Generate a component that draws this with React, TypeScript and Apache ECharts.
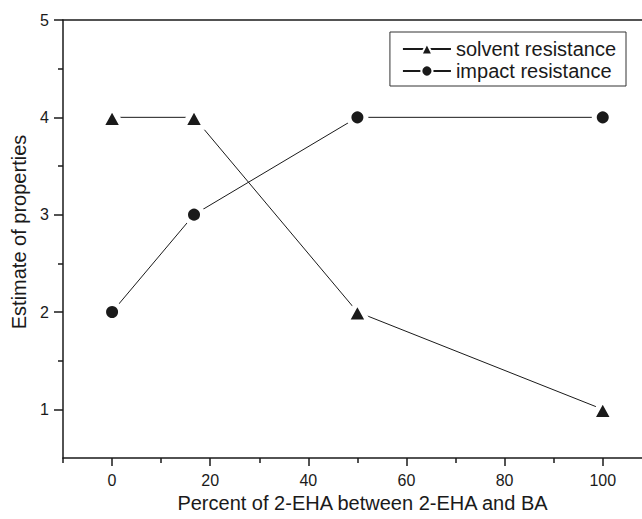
import React, { useEffect, useRef } from "react";
import * as echarts from "echarts";

const percentEHA = [0, 16.7, 50, 100];
const solventResistance = [4, 4, 2, 1];
const impactResistance = [2, 3, 4, 4];
const xMajorTicks = [0, 20, 40, 60, 80, 100];
const xMinorTicks = [-10, 10, 30, 50, 70, 90];
const yMajorTicks = [1, 2, 3, 4, 5];
const yMinorTicks = [1.5, 2.5, 3.5, 4.5];

const FONT = "'Liberation Sans', Arial, sans-serif";
const INK = "#1a1a1a";

export default function App() {
  const ref = useRef<HTMLDivElement>(null);
  useEffect(() => {
    if (!ref.current) return;
    const chart = echarts.init(ref.current, undefined, { renderer: "svg" });
    const xBase = { type: "value", min: -10, max: 108, splitLine: { show: false } };
    const yBase = { type: "value", min: 0.5, max: 5, splitLine: { show: false } };
    chart.setOption({
      animation: false,
      backgroundColor: "#fff",
      textStyle: { fontFamily: FONT },
      grid: { left: 63, right: 0, top: 20, bottom: 61, containLabel: false },
      legend: {
        orient: "vertical",
        right: 16,
        top: 32,
        padding: [7, 10, 5, 12],
        itemGap: 2,
        itemWidth: 48,
        itemHeight: 14,
        borderColor: "#333",
        borderWidth: 1,
        borderRadius: 0,
        textStyle: { fontSize: 20, color: INK, fontFamily: FONT },
        data: ["solvent resistance", "impact resistance"],
      },
      xAxis: [
        {
          ...xBase,
          position: "bottom",
          axisLine: { show: true, onZero: false, lineStyle: { color: INK, width: 1.5 } },
          axisTick: { show: true, customValues: xMajorTicks, length: 8, lineStyle: { color: INK, width: 1.5 } },
          axisLabel: { show: true, customValues: xMajorTicks, fontSize: 16, color: INK, margin: 14, fontFamily: FONT },
          name: "Percent of 2-EHA between 2-EHA and BA",
          nameLocation: "middle",
          nameGap: 35,
          nameTextStyle: { fontSize: 20, color: INK, fontFamily: FONT, padding: [0, 0, 0, 20] },
        },
        {
          ...xBase,
          position: "bottom",
          axisLine: { show: false, onZero: false },
          axisTick: { show: true, customValues: xMinorTicks, length: 5, lineStyle: { color: INK, width: 1.5 } },
          axisLabel: { show: false },
        },
        {
          ...xBase,
          position: "top",
          axisLine: { show: true, onZero: false, lineStyle: { color: INK, width: 1.5 } },
          axisTick: { show: false },
          axisLabel: { show: false },
        },
      ],
      yAxis: [
        {
          ...yBase,
          position: "left",
          axisLine: { show: true, onZero: false, lineStyle: { color: INK, width: 1.5 } },
          axisTick: { show: true, customValues: yMajorTicks, length: 9, lineStyle: { color: INK, width: 1.5 } },
          axisLabel: { show: true, customValues: yMajorTicks, fontSize: 16, color: INK, margin: 14, fontFamily: FONT },
          name: "Estimate of properties",
          nameLocation: "middle",
          nameGap: 33,
          nameTextStyle: { fontSize: 20, color: INK, fontFamily: FONT, padding: [0, 0, 0, 14] },
        },
        {
          ...yBase,
          position: "left",
          axisLine: { show: false, onZero: false },
          axisTick: { show: true, customValues: yMinorTicks, length: 5, lineStyle: { color: INK, width: 1.5 } },
          axisLabel: { show: false },
        },
      ],
      series: [
        {
          name: "solvent resistance",
          type: "line",
          xAxisIndex: 0,
          yAxisIndex: 0,
          data: percentEHA.map((x, i) => [x, solventResistance[i]]),
          symbol: "triangle",
          symbolSize: [22, 20],
          color: INK,
          lineStyle: { color: INK, width: 1 },
          itemStyle: { color: INK, borderColor: "#fff", borderWidth: 5 },
          z: 3,
        },
        {
          name: "impact resistance",
          type: "line",
          xAxisIndex: 0,
          yAxisIndex: 0,
          data: percentEHA.map((x, i) => [x, impactResistance[i]]),
          symbol: "circle",
          symbolSize: 17,
          color: INK,
          lineStyle: { color: INK, width: 1 },
          itemStyle: { color: INK, borderColor: "#fff", borderWidth: 5 },
          z: 3,
        },
      ],
    });
    return () => chart.dispose();
  }, []);
  return (
    <div
      ref={ref}
      style={{ position: "fixed", left: 0, top: 0, width: 642, height: 519, background: "#fff" }}
    />
  );
}
